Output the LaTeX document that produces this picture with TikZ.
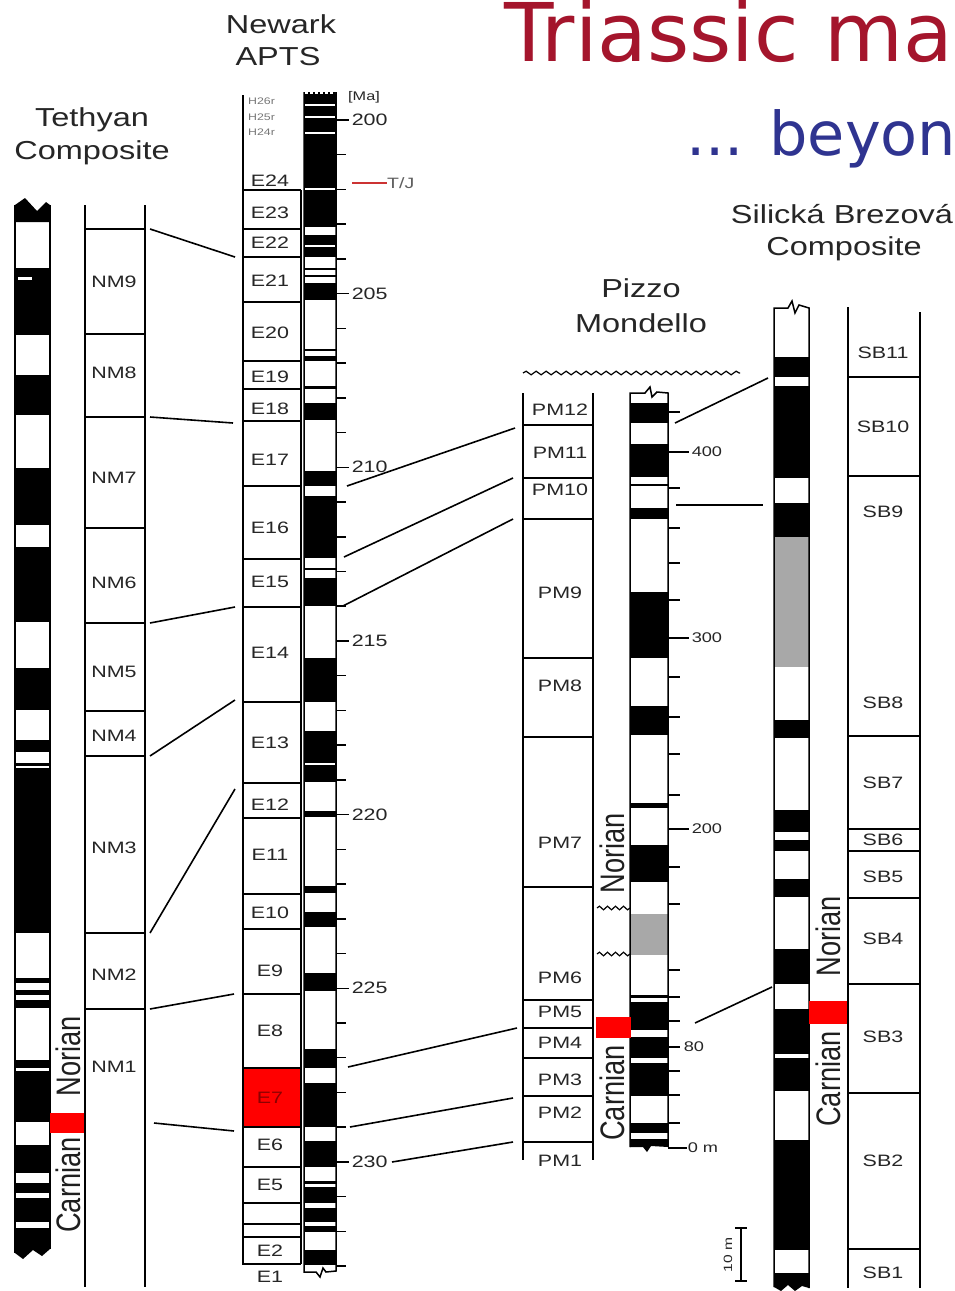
\documentclass[tikz,border=0pt]{standalone}
\usepackage{fontspec}
\setmainfont{Liberation Sans}
\newfontfamily\labfont[FakeStretch=1.3]{Liberation Sans}
\newfontfamily\hdrfont[FakeStretch=1.25]{Liberation Sans}
\newfontfamily\condfont[FakeStretch=0.8]{Liberation Sans}
\newfontfamily\ttlfont{DejaVu Sans}
\usetikzlibrary{decorations.pathmorphing}
\definecolor{ttlred}{HTML}{A4152C}
\definecolor{ttlblue}{HTML}{2F3490}
\definecolor{txtc}{HTML}{262626}
\definecolor{grayband}{HTML}{A8A8A8}
\definecolor{tjred}{HTML}{CC3333}
\definecolor{hgray}{HTML}{777777}
\begin{document}
\begin{tikzpicture}[x=1pt,y=-1pt,
  zl/.style={line width=1.8pt},
  outl/.style={draw=black, line width=1.5pt},
  corr/.style={line width=1.6pt},
  lab/.style={font=\labfont\fontsize{16.5}{18}\selectfont, text=txtc, inner sep=0pt},
  hlab/.style={font=\labfont\fontsize{9.5}{10}\selectfont, text=hgray, inner sep=0pt, anchor=west},
  tickln/.style={line width=1.5pt},
  hdr/.style={font=\hdrfont\fontsize{26}{32}\selectfont, text=txtc, inner sep=0pt, anchor=base},
  stage/.style={font=\condfont\fontsize{34}{36}\selectfont, text=black!88, rotate=90, inner sep=0pt},
  wavy/.style={decorate, decoration={snake, amplitude=1.8pt, segment length=10pt}, line width=1.2pt},
]
\useasboundingbox[fill=white] (0,0) rectangle (955,1291);

% ---------- titles ----------
\node[font=\ttlfont\fontsize{81}{84}\selectfont, text=ttlred, anchor=base west, inner sep=0pt] (title) at (504,61) {Triassic ma};
\node[font=\ttlfont\fontsize{60.5}{64}\selectfont, text=ttlblue, anchor=base west, inner sep=0pt] (subtitle) at (686,155) {... beyon};

% ---------- headers ----------
\node[hdr] (hNew1) at (281,33) {Newark};
\node[hdr] (hNew2) at (278,65) {APTS};
\node[hdr] (hTet1) at (92,126) {Tethyan};
\node[hdr] (hTet2) at (92,159) {Composite};
\node[hdr] (hPiz1) at (641,297) {Pizzo};
\node[hdr] (hPiz2) at (641,332) {Mondello};
\node[hdr] (hSil1) at (842,223) {Silická Brezová};
\node[hdr] (hSil2) at (844,255) {Composite};

% ================= TETHYAN COMPOSITE =================
\fill (15,222) -- (15,205) -- (25,198) -- (37,211) -- (46,202) -- (50,205) -- (50,222) -- cycle;
\foreach \a/\b in {268/335,375/415,468/525,547/622,668/710,740/752,763/766,768/933,978/983,990/995,1000/1008,1060/1068,1071/1122,1145/1173,1183/1193,1198/1222}
  \fill (15,\a) rectangle (50,\b);
\fill (15,1228) -- (15,1253) -- (23,1259) -- (33,1250) -- (42,1256) -- (50,1249) -- (50,1228) -- cycle;
\fill[white] (18,277) rectangle (32,280);
\draw[line width=1.1pt] (15,205) -- (15,1253) (50,205) -- (50,1249);
\fill[red] (50,1113) rectangle (86,1133);
\node[stage] (tNor) at (68,1056) {Norian};
\node[stage] (tCar) at (68,1185) {Carnian};
\draw[zl] (85,205) -- (85,1287) (145,205) -- (145,1287);
\foreach \y in {229,334,417,528,623,711,756,933,1009}
  \draw[zl] (85,\y) -- (145,\y);
\foreach \t/\y in {NM9/282,NM8/373,NM7/478,NM6/583,NM5/672,NM4/736,NM3/848,NM2/975,NM1/1067}
  \node[lab] (z\t) at (114,\y) {\t};

% ================= NEWARK APTS =================
\fill[red] (243,1068) rectangle (301,1127);
\foreach \a/\b in {92/227,235/257,268/270,275/277,283/300,349/351,356/361,386/389,403/420,471/486,496/558,568/570,578/606,658/702,731/782,811/817,886/893,912/927,973/991,1049/1068,1083/1127,1141/1167,1181/1184,1187/1203,1208/1222,1226/1232,1250/1265}
  \fill (304,\a) rectangle (336,\b);
\foreach \y in {105,117,133,189,246,764}
  \fill[white] (305,\y-1) rectangle (335,\y+1);
\draw[white, line width=1.6pt, dash pattern=on 2.5pt off 2.5pt] (305,93) -- (335,93);
\draw[outl] (304,92) -- (304,1272) -- (316,1272) -- (320,1277) -- (323,1268) -- (326,1272) -- (336,1271) -- (336,92);
\foreach \k in {1,2,3,4,6,7,8,9,11,12,13,14,16,17,18,19,21,22,23,24,26,27,28,29,31,32,33}
  \draw[tickln] (336,{120+34.73*\k}) -- (346,{120+34.73*\k});
\foreach \k/\t in {0/200,5/205,10/210,15/215,20/220,25/225,30/230}
  \draw[tickln] (336,{120+34.73*\k}) -- (349,{120+34.73*\k}) node[lab, anchor=west, xshift=2pt] (ma\t) {\t};
\node[font=\labfont\fontsize{12.5}{14}\selectfont, text=txtc, anchor=west, inner sep=0pt] (maunit) at (348,97) {[Ma]};
\draw[tjred, line width=2.8pt] (352,183) -- (387,183) coordinate (tjend);
\node[font=\labfont\fontsize{15}{16}\selectfont, text=hgray!80!black, anchor=west, inner sep=0pt] (tj) at (tjend) {T/J};
\draw[zl] (243,95) -- (243,1264) -- (301,1264) (301,190) -- (301,1264);
\foreach \y in {190,229,257,302,361,389,421,486,559,607,702,783,818,894,929,994,1068,1127,1167,1203,1224,1237}
  \draw[zl] (243,\y) -- (301,\y);
\node[hlab] (h26) at (248,101) {H26r};
\node[hlab] (h25) at (248,117) {H25r};
\node[hlab] (h24) at (248,132) {H24r};
\foreach \t/\y in {E24/181,E23/213,E22/243,E21/281,E20/333,E19/377,E18/409,E17/460,E16/528,E15/582,E14/653,E13/743,E12/805,E11/855,E10/913,E9/971,E8/1031,E6/1145,E5/1185,E2/1251,E1/1277}
  \node[lab] (z\t) at (270,\y) {\t};
\node[lab, text=red!55!black] (zE7) at (270,1098) {E7};

% ================= PIZZO MONDELLO =================
\draw[wavy] (523,373) -- (740,373);
\foreach \a/\b in {403/423,444/477,484/486,508/519,592/658,706/735,803/808,845/882,995/998,1002/1030,1037/1058,1063/1096,1123/1133}
  \fill (630,\a) rectangle (668,\b);
\fill[grayband] (630,914) rectangle (668,955);
\fill (630,1139) -- (630,1147) -- (643,1147) -- (647,1152) -- (651,1146) -- (668,1147) -- (668,1139) -- cycle;
\draw[outl] (630,1147) -- (630,393) -- (645,393) -- (650,387) -- (652,397) -- (657,392) -- (668,393) -- (668,1147);
\foreach \y in {412,488,528,563,600,677,717,754,795,867,904,970,997,1021,1071,1095,1123}
  \draw[tickln] (668,\y) -- (680,\y);
\foreach \y/\t in {452/400,638/300,829/200}
  \draw[tickln] (668,\y) -- (689,\y) node[lab, anchor=west, xshift=2pt, font=\labfont\fontsize{14}{16}\selectfont] (pm\t) {\t};
\draw[tickln] (668,1047) -- (680,1047) node[lab, anchor=west, xshift=3pt, font=\labfont\fontsize{14}{16}\selectfont] (pm80) {80};
\draw[tickln] (668,1148) -- (687,1148) node[lab, anchor=west, xshift=0pt, font=\labfont\fontsize{14}{16}\selectfont] (pm0) {0 m};
\fill[red] (596,1017) rectangle (631,1038);
\node[stage] (pNor) at (612,853) {Norian};
\node[stage] (pCar) at (612,1093) {Carnian};
\draw[wavy, decoration={snake, amplitude=1.8pt, segment length=8pt}] (597,908) -- (630,908);
\draw[wavy, decoration={snake, amplitude=1.8pt, segment length=8pt}] (597,954) -- (630,954);
\draw[zl] (523,393) -- (523,1160) (593,393) -- (593,1160);
\foreach \y in {425,478,519,658,737,887,1000,1028,1058,1096,1142}
  \draw[zl] (523,\y) -- (593,\y);
\foreach \t/\y in {PM12/410,PM11/453,PM10/490,PM9/593,PM8/686,PM7/843,PM6/978,PM5/1012,PM4/1043,PM3/1080,PM2/1113,PM1/1161}
  \node[lab] (z\t) at (560,\y) {\t};

% ================= SILICKA BREZOVA =================
\foreach \a/\b in {357/377,386/478,503/537,720/738,810/832,840/851,879/897,949/984,1009/1054,1058/1091,1140/1250}
  \fill (774,\a) rectangle (809,\b);
\fill[grayband] (774,537) rectangle (809,667);
\fill (774,1273) -- (774,1287) -- (781,1291) -- (788,1285) -- (795,1291) -- (802,1286) -- (809,1288) -- (809,1273) -- cycle;
\draw[outl] (774,1287) -- (774,308) -- (788,308) -- (792,301) -- (795,313) -- (799,305) -- (809,308) -- (809,1288);
\fill[red] (809,1001) rectangle (848,1024);
\node[stage] (sNor) at (828,936) {Norian};
\node[stage] (sCar) at (828,1079) {Carnian};
\draw[line width=1.4pt] (735,1228) -- (747,1228) (741,1228) -- (741,1281) (735,1281) -- (747,1281);
\node[font=\labfont\fontsize{12}{14}\selectfont, text=txtc, rotate=90, inner sep=0pt] (tenm) at (728,1255) {10 m};
\draw[zl] (848,307) -- (848,1288) (920,312) -- (920,1288);
\foreach \y in {377,476,736,829,851,898,984,1093,1249}
  \draw[zl] (848,\y) -- (920,\y);
\foreach \t/\y in {SB11/353,SB10/427,SB9/512,SB8/703,SB7/783,SB6/840,SB5/877,SB4/939,SB3/1037,SB2/1161,SB1/1273}
  \node[lab] (z\t) at (883,\y) {\t};

% ================= CORRELATION LINES =================
\foreach \ax/\ay/\bx/\by [count=\i] in {
  150/229/235/257, 150/417/233/423, 150/623/235/607, 150/756/235/700,
  150/933/235/789, 150/1009/234/994, 154/1123/234/1131,
  347/486/515/428, 344/557/513/478, 343/606/513/519,
  348/1067/517/1028, 350/1127/513/1098, 392/1162/513/1142,
  675/423/768/378, 676/505/763/505, 695/1023/772/987}
{
  \coordinate (ca\i) at (\ax,\ay);
  \coordinate (cb\i) at (\bx,\by);
  \draw[corr] (ca\i) -- (cb\i);
}
\end{tikzpicture}
\end{document}
